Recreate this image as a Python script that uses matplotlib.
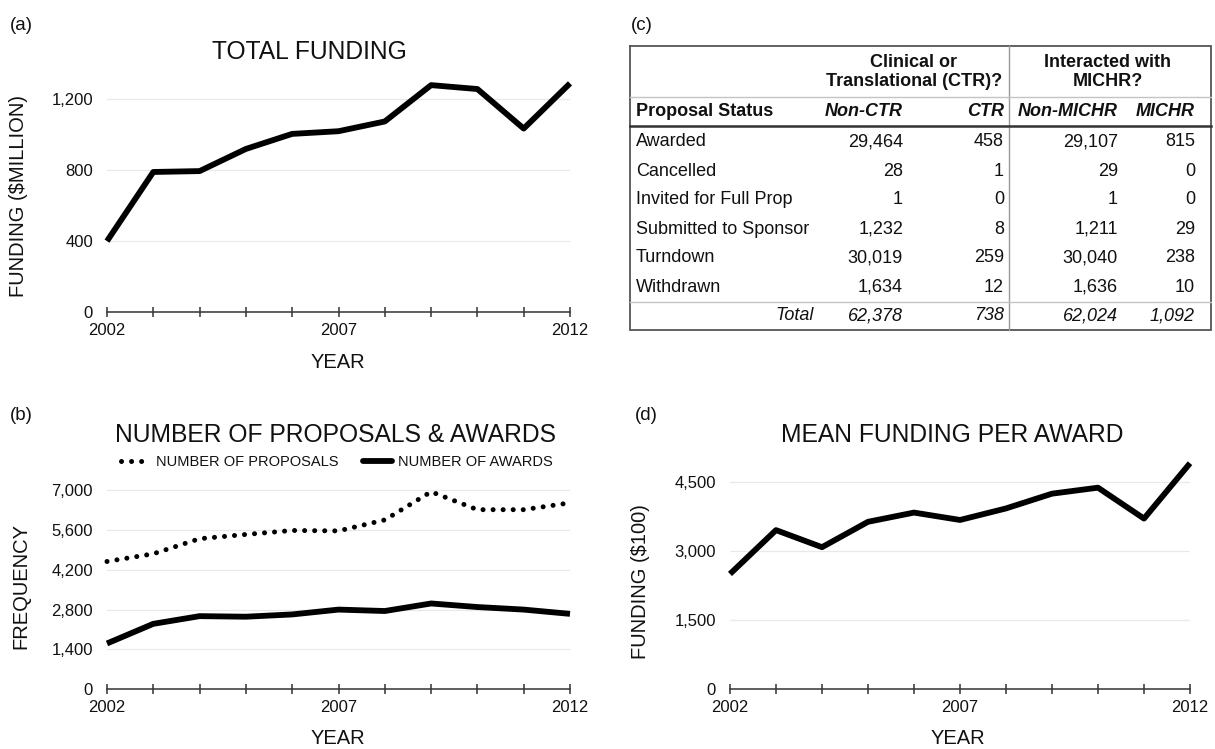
import matplotlib
matplotlib.use('Agg')
import matplotlib.pyplot as plt
from matplotlib.ticker import FuncFormatter
from matplotlib.lines import Line2D

plt.rcParams['font.family'] = ['Liberation Sans', 'DejaVu Sans']

# ---------------- data ----------------
years = [2002, 2003, 2004, 2005, 2006, 2007, 2008, 2009, 2010, 2011, 2012]
year_labels = [2002, 2007, 2012]

total_funding = [400, 790, 795, 920, 1005, 1020, 1075, 1280, 1258, 1035, 1290]
proposals = [4490, 4760, 5290, 5440, 5580, 5565, 5950, 6940, 6310, 6310, 6550]
awards = [1610, 2300, 2570, 2550, 2630, 2800, 2750, 3015, 2890, 2800, 2650]
mean_funding = [2500, 3450, 3080, 3630, 3830, 3670, 3920, 4240, 4370, 3700, 4900]

yticks_a = [0, 400, 800, 1200]
yticks_b = [0, 1400, 2800, 4200, 5600, 7000]
yticks_d = [0, 1500, 3000, 4500]

status = ['Awarded', 'Cancelled', 'Invited for Full Prop',
          'Submitted to Sponsor', 'Turndown', 'Withdrawn']
non_ctr = [29464, 28, 1, 1232, 30019, 1634]
ctr = [458, 1, 0, 8, 259, 12]
non_michr = [29107, 29, 1, 1211, 30040, 1636]
michr = [815, 0, 0, 29, 238, 10]
totals = [62378, 738, 62024, 1092]
col_headers = ['Non-CTR', 'CTR', 'Non-MICHR', 'MICHR']
group_headers = ['Clinical or\nTranslational (CTR)?', 'Interacted with\nMICHR?']

# ---------------- layout helpers ----------------
W, H = 1215, 749
fig = plt.figure(figsize=(W / 100, H / 100), dpi=100)
fig.patch.set_facecolor('white')


def rect(l, t, r, b):
    return [l / W, 1 - b / H, (r - l) / W, (b - t) / H]


def ftext(x, y, s, **kw):
    kw.setdefault('color', '#111111')
    fig.text(x / W, 1 - y / H, s, **kw)


fmt = FuncFormatter(lambda v, p: f'{int(v):,}')
TITLE_FS = 17.7
LABEL_FS = 14.5
TICK_FS = 12


def style(ax, ymax, yticks):
    ax.set_xlim(years[0], years[-1])
    ax.set_ylim(0, ymax)
    for s in ['top', 'right', 'left']:
        ax.spines[s].set_visible(False)
    ax.spines['bottom'].set_linewidth(1.1)
    ax.spines['bottom'].set_color('#333333')
    ax.set_xticks(year_labels)
    ax.set_xticks(years, minor=True)
    ax.tick_params(axis='x', which='both', direction='inout', length=6.5,
                   width=1.1, color='#333333', labelcolor='#111111',
                   labelsize=TICK_FS, pad=4.6)
    ax.set_yticks(yticks)
    ax.yaxis.set_major_formatter(fmt)
    ax.tick_params(axis='y', length=0, labelsize=TICK_FS, pad=10,
                   labelcolor='#111111')
    ax.grid(axis='y', color='#e9e9e9', lw=0.9)
    ax.set_axisbelow(True)


# ---------------- (a) total funding ----------------
axa = fig.add_axes(rect(107, 74.5, 570, 312))
style(axa, 1340, yticks_a)
axa.plot(years, total_funding, color='black', lw=4.2,
         solid_joinstyle='round', solid_capstyle='butt', clip_on=False)
ftext(21, 25, '(a)', fontsize=13.5, ha='center', va='center')
ftext(309, 52, 'TOTAL FUNDING', fontsize=TITLE_FS, ha='center', va='center')
ftext(19, 196, 'FUNDING ($MILLION)', fontsize=LABEL_FS, rotation=90,
      ha='center', va='center')
ftext(338, 363, 'YEAR', fontsize=LABEL_FS, ha='center', va='center')

# ---------------- (b) proposals & awards ----------------
axb = fig.add_axes(rect(107, 481.5, 570, 689.3))
style(axb, 7300, yticks_b)
dot_style = dict(color='black', lw=3.6, linestyle=(0, (0.01, 2.0)),
                 dash_capstyle='round')
axb.plot(years, proposals, clip_on=False, **dot_style)
axb.plot(years, awards, color='black', lw=4.2, solid_joinstyle='round',
         solid_capstyle='butt', clip_on=False)
h1 = Line2D([], [], **dot_style)
h2 = Line2D([], [], color='black', lw=4.2, solid_capstyle='round')
leg = axb.legend([h1, h2], ['NUMBER OF PROPOSALS', 'NUMBER OF AWARDS'],
                 loc='center', bbox_to_anchor=(337 / W, 1 - 462 / H),
                 bbox_transform=fig.transFigure, ncol=2, frameon=False,
                 fontsize=10.5, handlelength=2.0, handletextpad=0.4,
                 columnspacing=1.7, borderpad=0)
for t in leg.get_texts():
    t.set_color('#111111')
ftext(21, 415, '(b)', fontsize=13.5, ha='center', va='center')
ftext(336, 435, 'NUMBER OF PROPOSALS & AWARDS', fontsize=TITLE_FS,
      ha='center', va='center')
ftext(21, 586, 'FREQUENCY', fontsize=LABEL_FS, rotation=90,
      ha='center', va='center')
ftext(338, 739, 'YEAR', fontsize=LABEL_FS, ha='center', va='center')

# ---------------- (d) mean funding per award ----------------
axd = fig.add_axes(rect(730, 458.6, 1190, 689.3))
style(axd, 5000, yticks_d)
axd.plot(years, mean_funding, color='black', lw=4.2,
         solid_joinstyle='round', solid_capstyle='butt', clip_on=False)
ftext(646, 415, '(d)', fontsize=13.5, ha='center', va='center')
ftext(952, 435, 'MEAN FUNDING PER AWARD', fontsize=TITLE_FS,
      ha='center', va='center')
ftext(641, 582, 'FUNDING ($100)', fontsize=LABEL_FS, rotation=90,
      ha='center', va='center')
ftext(958, 739, 'YEAR', fontsize=LABEL_FS, ha='center', va='center')

# ---------------- (c) table ----------------
tax = fig.add_axes([0, 0, 1, 1])
tax.set_xlim(0, W)
tax.set_ylim(H, 0)
tax.axis('off')
tax.patch.set_alpha(0)

ftext(642, 25, '(c)', fontsize=13.5, ha='center', va='center')

L, R, T, B = 630, 1211, 46, 330
vline_x = 1009
tax.plot([L, R, R, L, L], [T, T, B, B, T], color='#555555', lw=1.3,
         solid_joinstyle='miter')
tax.plot([vline_x, vline_x], [T, B], color='#999999', lw=1.0)
tax.plot([L, R], [97, 97], color='#c4c4c4', lw=1.0)
tax.plot([L, R], [126, 126], color='#333333', lw=1.8)
tax.plot([L, R], [302, 302], color='#c4c4c4', lw=1.0)

fs = 13
col_right = [903, 1004, 1118, 1195]
group_cx = [914, 1108]
for cx, gh in zip(group_cx, group_headers):
    tax.text(cx, 72, gh, ha='center', va='center', fontsize=fs,
             fontweight='bold', linespacing=1.1, color='#111111')

tax.text(636, 112, 'Proposal Status', ha='left', va='center', fontsize=fs,
         fontweight='bold', color='#111111')
for xr, ch in zip(col_right, col_headers):
    tax.text(xr, 112, ch, ha='right', va='center', fontsize=fs,
             fontweight='bold', fontstyle='italic', color='#111111')

row_y = [142, 171, 200, 229, 258, 287]
for i, y in enumerate(row_y):
    tax.text(636, y, status[i], ha='left', va='center', fontsize=fs,
             color='#111111')
    for xr, col in zip(col_right, [non_ctr, ctr, non_michr, michr]):
        tax.text(xr, y, f'{col[i]:,}', ha='right', va='center',
                 fontsize=fs, color='#111111')

tax.text(814, 316, 'Total', ha='right', va='center', fontsize=fs,
         fontstyle='italic', color='#111111')
for xr, v in zip(col_right, totals):
    tax.text(xr, 316, f'{v:,}', ha='right', va='center', fontsize=fs,
             fontstyle='italic', color='#111111')

fig.savefig('out.png', dpi=100, facecolor='white')
